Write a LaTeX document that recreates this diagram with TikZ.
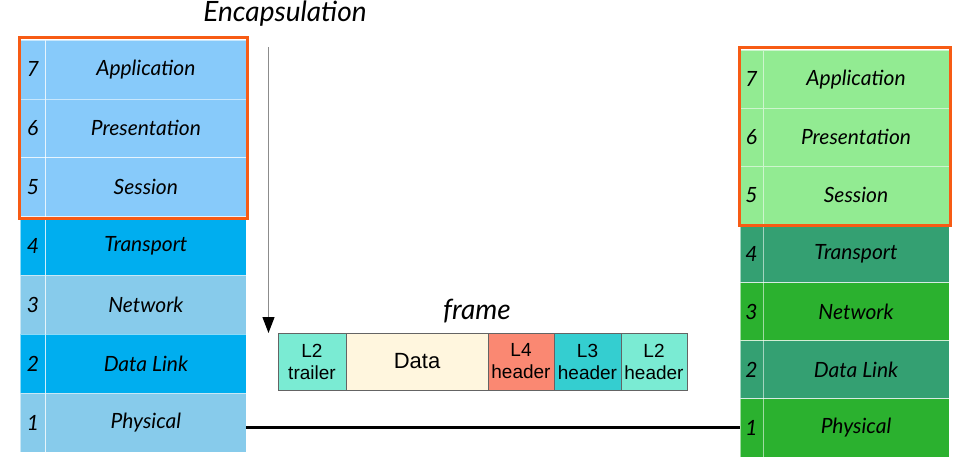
\documentclass[tikz,border=0pt]{standalone}
\usepackage{fontspec}
\setmainfont{Liberation Sans}
\newfontfamily\handfont{Lato}
\usetikzlibrary{arrows.meta,positioning}

\begin{document}
\begin{tikzpicture}[x=1pt,y=-1pt,line cap=rect,
    hand/.style={font=\handfont\itshape\fontsize{21}{21}\selectfont},
    numcell/.style={hand,draw=white,draw opacity=0.55,line width=0.7pt,inner sep=0pt,outer sep=0pt,anchor=north west},
    lnum/.style={numcell,minimum width=25.7pt,minimum height=58.86pt},
    lname/.style={lnum,minimum width=200.3pt},
    rnum/.style={numcell,minimum width=23pt,minimum height=58.14pt},
    rname/.style={rnum,minimum width=186pt},
    hilite/.style={draw=custcol_orange,line width=3pt},
    pdu/.style={draw=custcol_border,line width=0.8pt,inner sep=0pt,outer sep=0pt,minimum height=57pt,
        align=center,font=\fontsize{19}{22}\selectfont},
    encarrow/.style={draw=custcol_gray,line width=1.2pt,-{Triangle[color=black,length=16pt,width=12pt]}}]
    \definecolor{custcol_lb_top}{RGB}{135, 202, 250}
    \definecolor{custcol_lb_dark}{RGB}{0, 174, 239}
    \definecolor{custcol_lb_mid}{RGB}{135, 203, 235}
    \definecolor{custcol_gr_top}{RGB}{146, 235, 146}
    \definecolor{custcol_gr_dark}{RGB}{52, 160, 114}
    \definecolor{custcol_gr_mid}{RGB}{43, 177, 47}
    \definecolor{custcol_orange}{RGB}{247, 91, 20}
    \definecolor{custcol_gray}{RGB}{140, 140, 140}
    \definecolor{custcol_border}{RGB}{100, 100, 100}
    \definecolor{custcol_aqua}{RGB}{122, 235, 211}
    \definecolor{custcol_data}{RGB}{255, 246, 222}
    \definecolor{custcol_salmon}{RGB}{250, 136, 114}
    \definecolor{custcol_turq}{RGB}{52, 206, 208}
    \useasboundingbox (0,0) rectangle (964,468);
    % sending stack
    \foreach \n/\name/\col [count=\i from 0] in {7/Application/custcol_lb_top,6/Presentation/custcol_lb_top,
        5/Session/custcol_lb_top,4/Transport/custcol_lb_dark,3/Network/custcol_lb_mid,
        2/Data Link/custcol_lb_dark,1/Physical/custcol_lb_mid}{
        \node[lnum,fill=\col] (LN\n) at (20,40+\i*58.86) {\n};
        \node[lname,fill=\col] (L\n) at (LN\n.north east) {\name};
    }
    \draw[hilite] ([xshift=-1pt,yshift=2pt]LN7.north west) rectangle ([xshift=1pt,yshift=-2pt]L5.south east);
    % receiving stack
    \foreach \n/\name/\col [count=\i from 0] in {7/Application/custcol_gr_top,6/Presentation/custcol_gr_top,
        5/Session/custcol_gr_top,4/Transport/custcol_gr_dark,3/Network/custcol_gr_mid,
        2/Data Link/custcol_gr_dark,1/Physical/custcol_gr_mid}{
        \node[rnum,fill=\col] (RN\n) at (740,50+\i*58.14) {\n};
        \node[rname,fill=\col] (R\n) at (RN\n.north east) {\name};
    }
    \draw[hilite] ([xshift=-1pt,yshift=2pt]RN7.north west) rectangle ([xshift=1pt,yshift=-1pt]R5.south east);
    % medium
    \draw[line width=3pt,line cap=butt] (L1.east |- RN1.west) -- (RN1.west);
    % encapsulation
    \node[hand,font=\handfont\itshape\fontsize{28}{28}\selectfont] (enc) at (285,14) {Encapsulation};
    \coordinate (enctop) at (268.5,48);
    \coordinate (encbot) at (268.5,333);
    \draw[encarrow] (enctop) -- (encbot);
    % frame
    \node[pdu,fill=custcol_aqua,minimum width=68pt,anchor=north west] (trailer) at (278,333) {L2\\trailer};
    \node[pdu,fill=custcol_data,minimum width=142pt,right=0pt of trailer,font=\fontsize{22}{22}\selectfont] (data) {Data};
    \node[pdu,fill=custcol_salmon,minimum width=66pt,right=0pt of data] (h4) {L4\\header};
    \node[pdu,fill=custcol_turq,minimum width=67pt,right=0pt of h4] (h3) {L3\\header};
    \node[pdu,fill=custcol_aqua,minimum width=66pt,right=0pt of h3] (h2) {L2\\header};
    \node[hand,font=\handfont\itshape\fontsize{28}{28}\selectfont] (framelbl) at (477,311) {frame};
\end{tikzpicture}
\end{document}
